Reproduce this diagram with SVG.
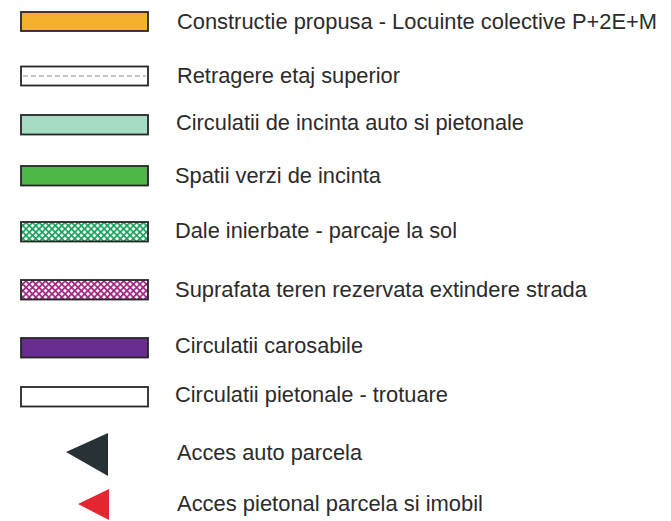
<svg xmlns="http://www.w3.org/2000/svg" width="671" height="521" viewBox="0 0 671 521">
<style>
.sw{stroke:#262626;stroke-width:1.8}
.t{font-family:"Liberation Sans",Arial,sans-serif;font-size:22px;fill:#2b2b2b}
</style>
<defs>
<pattern id="hg" width="4.6" height="4.6" patternUnits="userSpaceOnUse" patternTransform="rotate(45)">
<rect width="4.6" height="4.6" fill="#ffffff"/>
<rect width="4.6" height="1.7" fill="#17a25a"/>
<rect width="1.7" height="4.6" fill="#17a25a"/>
</pattern>
<pattern id="hm" width="4.6" height="4.6" patternUnits="userSpaceOnUse" patternTransform="rotate(45)">
<rect width="4.6" height="4.6" fill="#ffffff"/>
<rect width="4.6" height="1.7" fill="#a0237f"/>
<rect width="1.7" height="4.6" fill="#a0237f"/>
</pattern>
</defs>
<rect width="671" height="521" fill="#ffffff"/>
<g id="item1">
<rect class="sw" x="21" y="12" width="127" height="19" fill="#f6b12b"/>
<text class="t" x="177" y="29" textLength="480" lengthAdjust="spacingAndGlyphs">Constructie propusa - Locuinte colective P+2E+M</text>
</g>
<g id="item2">
<rect class="sw" x="21" y="66.5" width="127" height="19" fill="#ffffff"/>
<line x1="23" y1="76" x2="146" y2="76" stroke="#8a8a8a" stroke-width="1" stroke-dasharray="5 3"/>
<text class="t" x="177" y="83" textLength="223" lengthAdjust="spacingAndGlyphs">Retragere etaj superior</text>
</g>
<g id="item3">
<rect class="sw" x="21" y="115" width="127" height="19.5" fill="#a6dcc3"/>
<text class="t" x="176" y="130" textLength="348" lengthAdjust="spacingAndGlyphs">Circulatii de incinta auto si pietonale</text>
</g>
<g id="item4">
<rect class="sw" x="21" y="166" width="127" height="19.5" fill="#4db848"/>
<text class="t" x="175" y="183" textLength="206" lengthAdjust="spacingAndGlyphs">Spatii verzi de incinta</text>
</g>
<g id="item5">
<rect class="sw" x="21" y="222" width="127" height="19.5" fill="url(#hg)"/>
<text class="t" x="175" y="238" textLength="282" lengthAdjust="spacingAndGlyphs">Dale inierbate - parcaje la sol</text>
</g>
<g id="item6">
<rect class="sw" x="21" y="280" width="127" height="19.5" fill="url(#hm)"/>
<text class="t" x="175" y="297" textLength="412" lengthAdjust="spacingAndGlyphs">Suprafata teren rezervata extindere strada</text>
</g>
<g id="item7">
<rect class="sw" x="21" y="338" width="127" height="19.5" fill="#692c90"/>
<text class="t" x="175" y="353" textLength="188" lengthAdjust="spacingAndGlyphs">Circulatii carosabile</text>
</g>
<g id="item8">
<rect class="sw" x="21" y="387" width="127" height="19.5" fill="#ffffff"/>
<text class="t" x="175" y="402" textLength="273" lengthAdjust="spacingAndGlyphs">Circulatii pietonale - trotuare</text>
</g>
<g id="item9">
<polygon points="66,452 108,433 108,476" fill="#263236"/>
<text class="t" x="177" y="460" textLength="185" lengthAdjust="spacingAndGlyphs">Acces auto parcela</text>
</g>
<g id="item10">
<polygon points="78,504 109,489 109,520" fill="#e3262f"/>
<text class="t" x="177" y="511" textLength="306" lengthAdjust="spacingAndGlyphs">Acces pietonal parcela si imobil</text>
</g>
<g id="connectors"/>
</svg>
